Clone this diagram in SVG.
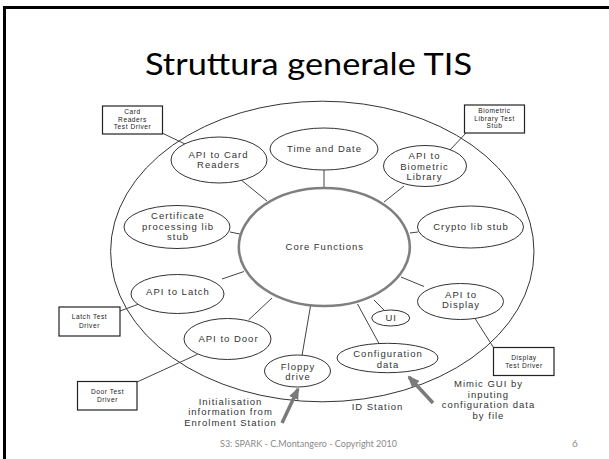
<svg xmlns="http://www.w3.org/2000/svg" width="609" height="459" viewBox="0 0 609 459">
  <style>
    .slide-title { font-family: Lato, "Liberation Sans", sans-serif; font-size: 31px; fill: #000; }
    .footer { font-family: Lato, "Liberation Sans", sans-serif; font-size: 10px; fill: #8a8a8a; }
    .node { fill: #fff; stroke: #333; stroke-width: 1; }
    .core { fill: #fff; stroke: #7f7f7f; stroke-width: 2.6; }
    .box { fill: #fff; stroke: #222; stroke-width: 1.2; }
    .lbl { font-family: "Liberation Sans", Arial, sans-serif; font-size: 9.5px; fill: #333; text-anchor: middle; letter-spacing: 1px; }
    .small { font-family: "Liberation Sans", Arial, sans-serif; font-size: 6.6px; fill: #222; text-anchor: middle; letter-spacing: 0.55px; }
    .conn line { stroke: #444; stroke-width: 1; }
    .feed { stroke: #7a7a7a; stroke-width: 3.5; fill: none; }
  </style>
  <defs>
    <marker id="grayHead" markerUnits="userSpaceOnUse" markerWidth="12" markerHeight="10" refX="10" refY="5" orient="auto">
      <path d="M0,0 L12,5 L0,10 Z" fill="#7a7a7a"/>
    </marker>
  </defs>

  <!-- slide frame -->
  <rect width="609" height="459" fill="#fff"/>
  <path d="M4.5,459 V7.5 H609" fill="none" stroke="#000" stroke-width="3"/>

  <text class="slide-title" x="145" y="75" textLength="327" lengthAdjust="spacingAndGlyphs">Struttura generale TIS</text>

  <!-- ID Station boundary -->
  <g id="id-station">
    <ellipse cx="322.3" cy="251.5" rx="211.7" ry="150.3" fill="none" stroke="#333" stroke-width="1"/>
    <text class="lbl" x="377.5" y="409.5">ID Station</text>
  </g>

  <!-- connectors -->
  <g id="connectors" class="conn">
    <line x1="162" y1="133" x2="185" y2="144"/>
    <line x1="240" y1="179" x2="267" y2="201"/>
    <line x1="324" y1="170" x2="324" y2="188"/>
    <line x1="404" y1="186" x2="384" y2="202"/>
    <line x1="466" y1="133" x2="450" y2="150"/>
    <line x1="230" y1="232" x2="240" y2="234"/>
    <line x1="410" y1="233" x2="418" y2="232"/>
    <line x1="222" y1="279" x2="244" y2="271.5"/>
    <line x1="120" y1="311" x2="139" y2="304"/>
    <line x1="248.5" y1="320" x2="272" y2="298"/>
    <line x1="137" y1="382" x2="197.5" y2="354.3"/>
    <line x1="310.5" y1="306" x2="302" y2="355.5"/>
    <line x1="374" y1="300" x2="384" y2="310"/>
    <line x1="357.5" y1="304" x2="379" y2="343.5"/>
    <line x1="401" y1="277" x2="424" y2="286.5"/>
    <line x1="475" y1="318.5" x2="493.5" y2="347.5"/>
  </g>

  <g id="core-functions">
    <ellipse class="core" cx="324.3" cy="247" rx="85.5" ry="59"/>
    <text class="lbl" x="324.8" y="250.3">Core Functions</text>
  </g>

  <g id="api-card-readers">
    <ellipse class="node" cx="219" cy="160" rx="48" ry="23"/>
    <text class="lbl" x="218.5" y="157.5">API to Card</text>
    <text class="lbl" x="218.5" y="168.1">Readers</text>
  </g>

  <g id="time-and-date">
    <ellipse class="node" cx="324" cy="149" rx="54" ry="21"/>
    <text class="lbl" x="324.5" y="152.3">Time and Date</text>
  </g>

  <g id="api-biometric">
    <ellipse class="node" cx="425" cy="166" rx="41.5" ry="20.5"/>
    <text class="lbl" x="424.5" y="159">API to</text>
    <text class="lbl" x="424.5" y="169.6">Biometric</text>
    <text class="lbl" x="424.5" y="180.2">Library</text>
  </g>

  <g id="certificate-stub">
    <ellipse class="node" cx="177" cy="227" rx="53" ry="21.5"/>
    <text class="lbl" x="178" y="219">Certificate</text>
    <text class="lbl" x="178" y="229.6">processing lib</text>
    <text class="lbl" x="178" y="240.2">stub</text>
  </g>

  <g id="crypto-stub">
    <ellipse class="node" cx="470.5" cy="227" rx="53" ry="21"/>
    <text class="lbl" x="471" y="230">Crypto lib stub</text>
  </g>

  <g id="api-latch">
    <ellipse class="node" cx="177.5" cy="294" rx="46.5" ry="19.5"/>
    <text class="lbl" x="178" y="294.8">API to Latch</text>
  </g>

  <g id="api-door">
    <ellipse class="node" cx="227.5" cy="339" rx="43.5" ry="20.5"/>
    <text class="lbl" x="228.5" y="342.2">API to Door</text>
  </g>

  <g id="floppy-drive">
    <ellipse class="node" cx="297.5" cy="371" rx="33" ry="16"/>
    <text class="lbl" x="298" y="369.5">Floppy</text>
    <text class="lbl" x="298" y="380.1">drive</text>
  </g>

  <g id="ui">
    <ellipse class="node" cx="390.7" cy="318" rx="19" ry="8"/>
    <text class="lbl" x="391.2" y="321.4">UI</text>
  </g>

  <g id="configuration-data">
    <ellipse class="node" cx="387.5" cy="358" rx="50.5" ry="14.7"/>
    <text class="lbl" x="388" y="357">Configuration</text>
    <text class="lbl" x="388" y="367.6">data</text>
  </g>

  <g id="api-display">
    <ellipse class="node" cx="460.5" cy="301.5" rx="43" ry="18"/>
    <text class="lbl" x="461" y="297.7">API to</text>
    <text class="lbl" x="461" y="308.3">Display</text>
  </g>

  <!-- test drivers and stubs outside the station -->
  <g id="card-readers-driver">
    <rect class="box" x="102.5" y="106" width="60" height="28"/>
    <text class="small" x="132.5" y="114">Card</text>
    <text class="small" x="132.5" y="121.6">Readers</text>
    <text class="small" x="132.5" y="129.2">Test Driver</text>
  </g>

  <g id="biometric-stub">
    <rect class="box" x="464.5" y="105" width="60" height="28"/>
    <text class="small" x="494.5" y="113">Biometric</text>
    <text class="small" x="494.5" y="120.6">Library Test</text>
    <text class="small" x="494.5" y="128.2">Stub</text>
  </g>

  <g id="latch-driver">
    <rect class="box" x="59" y="307" width="61" height="29"/>
    <text class="small" x="89.5" y="319">Latch Test</text>
    <text class="small" x="89.5" y="327.6">Driver</text>
  </g>

  <g id="door-driver">
    <rect class="box" x="77.5" y="381.5" width="59.5" height="28.5"/>
    <text class="small" x="107.5" y="393.8">Door Test</text>
    <text class="small" x="107.5" y="402">Driver</text>
  </g>

  <g id="display-driver">
    <rect class="box" x="493.5" y="347.5" width="60.5" height="28"/>
    <text class="small" x="524" y="359.5">Display</text>
    <text class="small" x="524" y="367.7">Test Driver</text>
  </g>

  <!-- external inputs -->
  <g id="enrolment-input">
    <line class="feed" x1="282" y1="423" x2="298" y2="389" marker-end="url(#grayHead)"/>
    <text class="lbl" x="230.5" y="404.5">Initialisation</text>
    <text class="lbl" x="230.5" y="415.1">information from</text>
    <text class="lbl" x="230.5" y="425.7">Enrolment Station</text>
  </g>

  <g id="gui-input">
    <line class="feed" x1="433" y1="403" x2="409" y2="377" marker-end="url(#grayHead)"/>
    <text class="lbl" x="488.5" y="387">Mimic GUI by</text>
    <text class="lbl" x="488.5" y="397.6">inputing</text>
    <text class="lbl" x="488.5" y="408.2">configuration data</text>
    <text class="lbl" x="488.5" y="418.8">by file</text>
  </g>

  <text class="footer" x="220" y="447" textLength="177" lengthAdjust="spacingAndGlyphs">S3: SPARK - C.Montangero - Copyright 2010</text>
  <text class="footer" x="575" y="447" text-anchor="middle">6</text>
</svg>
